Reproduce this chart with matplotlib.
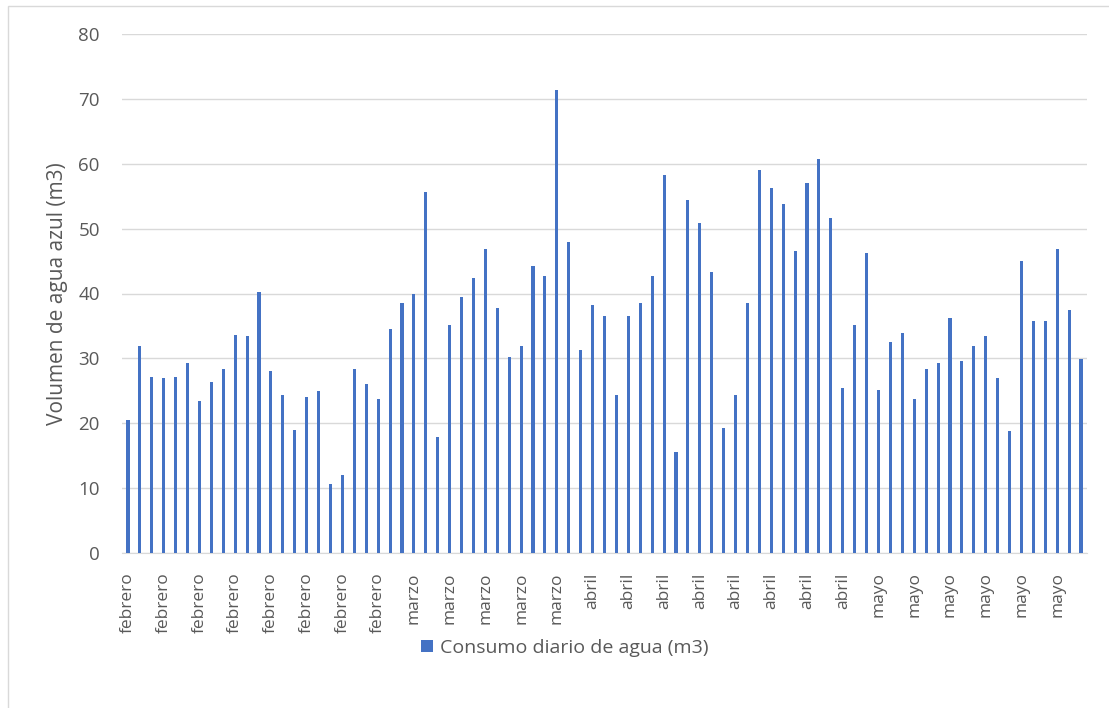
import numpy as np
import matplotlib.pyplot as plt
from matplotlib.patches import Rectangle

plt.rcParams['font.family'] = ['Open Sans', 'DejaVu Sans']

#### ========== Data ==========

months = ['febrero'] * 24 + ['marzo'] * 15 + ['abril'] * 24 + ['mayo'] * 18

consumo = [
    20.5, 31.9, 27.2, 26.9, 27.2, 29.3, 23.4, 26.4, 28.4, 33.6,
    33.4, 40.3, 28.1, 24.3, 19.0, 24.0, 24.9, 10.6, 12.0, 28.4,
    26.0, 23.7, 34.5, 38.6, 40.0, 55.6, 17.9, 35.1, 39.5, 42.4,
    46.8, 37.8, 30.2, 31.9, 44.2, 42.7, 71.4, 47.9, 31.3, 38.3,
    36.6, 24.3, 36.6, 38.6, 42.7, 58.2, 15.5, 54.4, 50.9, 43.3,
    19.3, 24.3, 38.6, 59.1, 56.2, 53.8, 46.5, 57.0, 60.8, 51.7,
    25.5, 35.1, 46.2, 25.2, 32.5, 33.9, 23.7, 28.4, 29.3, 36.3,
    29.6, 31.9, 33.4, 26.9, 18.8, 45.0, 35.7, 35.7, 46.8, 37.4,
    29.9,
]

yticks = [0, 10, 20, 30, 40, 50, 60, 70, 80]

seriesName = 'Consumo diario de agua (m3)'
yLabel = 'Volumen de agua azul (m3)'

#### ========== Plot ==========

W, H = 1109, 708
fig = plt.figure( figsize = ( W / 100, H / 100 ), dpi = 100 )
ax = fig.add_axes( [ 122 / W, 1 - 553 / H, ( 1087 - 122 ) / W, ( 553 - 34 ) / H ] )

x = np.arange( len( consumo ) )
ax.bar( x, consumo, width = 0.26, color = '#4472C4', label = seriesName, zorder = 3 )

ax.set_xlim( -0.5, len( consumo ) - 0.5 )
ax.set_ylim( 0, 80 )
ax.set_yticks( yticks )
ax.yaxis.grid( True, color = '#d9d9d9', linewidth = 1.0, zorder = 0 )

step = 3
ax.set_xticks( x[::step] )
ax.set_xticklabels( months[::step], rotation = 90, color = '#595959', fontsize = 12.5 )
ax.tick_params( axis = 'y', colors = '#595959', labelsize = 13.5, length = 0, pad = 16 )
ax.tick_params( axis = 'x', length = 0, pad = 14 )

for s in [ 'top', 'right', 'left' ]:
    ax.spines[ s ].set_visible( False )
ax.spines[ 'bottom' ].set_color( '#d9d9d9' )

ax.set_ylabel( yLabel, color = '#595959', fontsize = 15 )
ax.yaxis.set_label_coords( ( 57 - 122 ) / ( 1087 - 122 ), 0.5 )
ax.yaxis.label.set_verticalalignment( 'center' )

leg = fig.legend( loc = 'center', bbox_to_anchor = ( 565 / W, 1 - 648 / H ),
                  frameon = False, fontsize = 14, handlelength = 0.6,
                  handleheight = 0.6, handletextpad = 0.4 )
for t in leg.get_texts():
    t.set_color( '#595959' )

fig.patches.append( Rectangle( ( 8 / W, -0.1 ), 1.2, 1 - 6 / H + 0.1,
                               transform = fig.transFigure, fill = False,
                               edgecolor = '#d9d9d9', linewidth = 1.0 ) )

plt.savefig( 'out.png', dpi = 100 )
plt.close()
